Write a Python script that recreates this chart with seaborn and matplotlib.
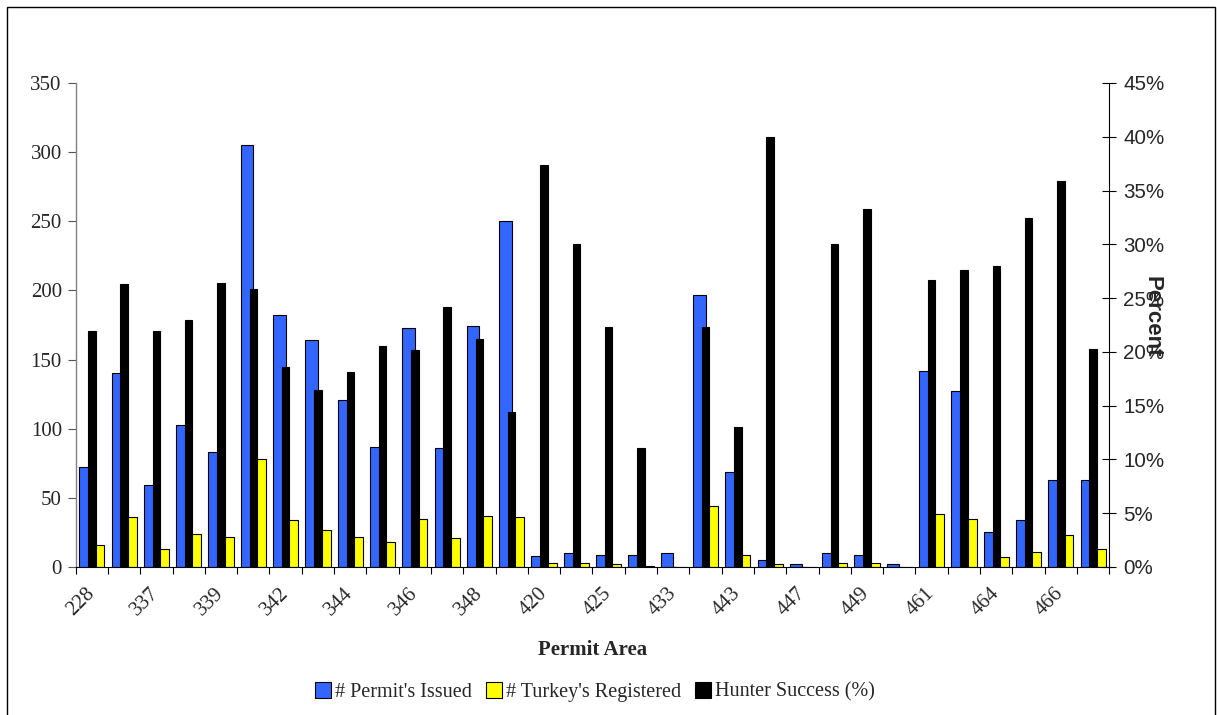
import numpy as np
import pandas as pd
import matplotlib
matplotlib.use("Agg")
import matplotlib.pyplot as plt
from matplotlib.patches import Patch, Rectangle
from matplotlib.ticker import FuncFormatter, FixedLocator, NullFormatter
import seaborn as sns

# Turkey permit areas and hunt results
areas = ["228", "229", "337", "338", "339", "341", "342", "343", "344", "345",
         "346", "347", "348", "349", "420", "421", "425", "427", "433", "442",
         "443", "444", "447", "448", "449", "460", "461", "462", "464", "465",
         "466", "467"]
permits_issued = [72, 140, 59, 103, 83, 305, 182, 164, 121, 87,
                  173, 86, 174, 250, 8, 10, 9, 9, 10, 197,
                  69, 5, 2, 10, 9, 2, 142, 127, 25, 34,
                  63, 63]
turkeys_registered = [16, 36, 13, 24, 22, 78, 34, 27, 22, 18,
                      35, 21, 37, 36, 3, 3, 2, 1, 0, 44,
                      9, 2, 0, 3, 3, 0, 38, 35, 7, 11,
                      23, 13]
hunter_success = [21.9, 26.3, 21.9, 23.0, 26.4, 25.8, 18.6, 16.5, 18.1, 20.5,
                  20.2, 24.2, 21.2, 14.4, 37.4, 30.0, 22.3, 11.1, 0.0, 22.3,
                  13.0, 40.0, 0.0, 30.0, 33.3, 0.0, 26.7, 27.6, 28.0, 32.4,
                  35.9, 20.3]

series_names = ["# Permit's Issued", "# Turkey's Registered", "Hunter Success (%)"]
colors = ["#3366FF", "#FFFF00", "#000000"]

counts = pd.DataFrame({
    "area": areas * 2,
    "series": [series_names[0]] * len(areas) + [series_names[1]] * len(areas),
    "value": permits_issued + turkeys_registered,
})
success = pd.DataFrame({"area": areas, "value": hunter_success})

serif = ["Liberation Serif", "DejaVu Serif"]
sans = ["Liberation Sans", "DejaVu Sans"]

sns.set_theme(style="white")
plt.rcParams["font.family"] = serif

fig = plt.figure(figsize=(12.17, 7.15), dpi=100)
ax = fig.add_axes([0.0622, 0.207, 0.9115 - 0.0622, 0.884 - 0.207])

# primary axis: permits and registrations, side by side
sns.barplot(data=counts, x="area", y="value", hue="series", order=areas,
            hue_order=series_names[:2], palette=colors[:2], width=0.78,
            saturation=1, edgecolor="black", linewidth=0.8, ax=ax, legend=False)

# secondary axis: hunter success, narrow bars over the pair
ax2 = ax.twinx()
sns.barplot(data=success, x="area", y="value", order=areas, color=colors[2],
            width=0.23, saturation=1, edgecolor="black", linewidth=0.8, ax=ax2)

n = len(areas)
ax.set_xlim(-0.5, n - 0.5)
ax.set_ylim(0, 350)
ax2.set_ylim(0, 45)

# x ticks between categories, labels on every other category
ax.xaxis.set_major_locator(FixedLocator(np.arange(-0.5, n, 1.0)))
ax.xaxis.set_major_formatter(NullFormatter())
ax.set_xticks(np.arange(0, n, 2), [areas[i] for i in range(0, n, 2)], minor=True)
ax.tick_params(axis="x", which="major", direction="out", length=5, width=0.8,
               color="black", bottom=True)
ax.tick_params(axis="x", which="minor", length=0, pad=17, labelsize=15)
for lbl in ax.get_xticklabels(minor=True):
    lbl.set_rotation(45)
    lbl.set_ha("right")
    lbl.set_va("center")
    lbl.set_rotation_mode("anchor")
    lbl.set_fontfamily(serif)

# left axis
ax.set_yticks(np.arange(0, 351, 50))
ax.tick_params(axis="y", direction="out", length=6, width=0.8, color="#555555",
               left=True, pad=4, labelsize=15)
for lbl in ax.get_yticklabels():
    lbl.set_fontfamily(serif)
ax.set_ylabel("")

# right axis
ax2.set_yticks(np.arange(0, 46, 5))
ax2.yaxis.set_major_formatter(FuncFormatter(lambda v, p: f"{v:.0f}%"))
ax2.tick_params(axis="y", direction="inout", length=10, width=0.8, color="black",
                right=True, pad=5, labelsize=14.8)
for lbl in ax2.get_yticklabels():
    lbl.set_fontfamily(sans)
ax2.set_ylabel("Percent", rotation=-90, fontsize=16, fontweight="bold",
               fontfamily=sans)
ax2.yaxis.label.set_ha("center")
ax2.yaxis.label.set_va("center")
ax2.yaxis.set_label_coords(1.0413, 0.517)

ax.set_xlabel("Permit Area", fontsize=15, fontweight="bold", fontfamily=serif)
ax.xaxis.set_label_coords(0.5, -0.171)
ax.xaxis.label.set_va("center")

for a in (ax, ax2):
    a.grid(False)
    a.spines["top"].set_visible(False)
ax.spines["left"].set_color("#808080")
ax.spines["left"].set_linewidth(1.0)
ax.spines["bottom"].set_color("black")
ax.spines["bottom"].set_linewidth(0.8)
ax.spines["right"].set_visible(False)
ax2.spines["left"].set_visible(False)
ax2.spines["bottom"].set_visible(False)
ax2.spines["right"].set_color("black")
ax2.spines["right"].set_linewidth(0.8)

handles = [Patch(facecolor=c, edgecolor="black", linewidth=0.8) for c in colors]
fig.legend(handles, series_names, loc="center", bbox_to_anchor=(0.489, 1 - 692 / 715),
           ncol=3, frameon=False, handlelength=0.8, handleheight=0.8,
           handletextpad=0.2, columnspacing=0.7,
           prop={"family": serif, "size": 14.5})

# chart frame
fig.patches.append(Rectangle((7 / 1217, -0.05), (1215 - 7) / 1217, 1.05 - 7 / 715,
                             transform=fig.transFigure, fill=False,
                             edgecolor="black", linewidth=1.0))

fig.savefig("out.png", dpi=100)
